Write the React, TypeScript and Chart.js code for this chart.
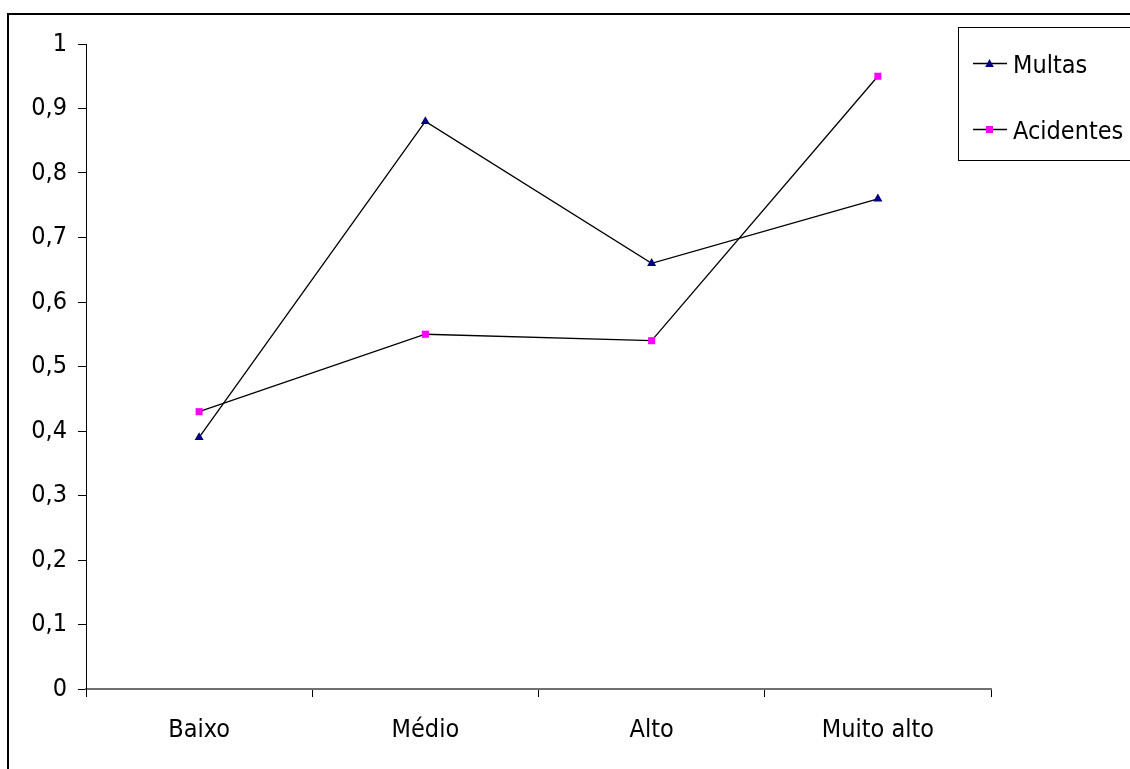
import { useEffect, useRef } from "react";
import { Chart, registerables } from "chart.js";

Chart.register(...registerables);

const categories = ["Baixo", "Médio", "Alto", "Muito alto"];
const multas = [0.39, 0.88, 0.66, 0.76];
const acidentes = [0.43, 0.55, 0.54, 0.95];
const seriesNames = ["Multas", "Acidentes"];
const seriesMarkerColors = ["#000080", "#ff00ff"];
const seriesMarkers = ["triangle", "rect"];

const FONT = "'DejaVu Sans Condensed', 'DejaVu Sans', Verdana, sans-serif";
const FONT_SIZE = 25;

const formatTick = (v: number) => String(Math.round(v * 10) / 10).replace(".", ",");

function drawMarker(ctx: CanvasRenderingContext2D, style: string, x: number, y: number, color: string) {
  ctx.save();
  ctx.fillStyle = color;
  ctx.beginPath();
  if (style === "triangle") {
    ctx.moveTo(x, y - 4.5);
    ctx.lineTo(x + 4.3, y + 3.5);
    ctx.lineTo(x - 4.3, y + 3.5);
    ctx.closePath();
  } else {
    ctx.rect(x - 3.5, y - 3.5, 7, 7);
  }
  ctx.fill();
  ctx.restore();
}

// white page, outer frame and the boxed legend at the top right
const framePlugin = {
  id: "frame",
  beforeDraw(chart: Chart) {
    const ctx = chart.ctx;
    ctx.save();
    ctx.fillStyle = "#ffffff";
    ctx.fillRect(0, 0, chart.width, chart.height);
    ctx.strokeStyle = "#000000";
    ctx.lineWidth = 2;
    ctx.strokeRect(8, 14, chart.width + 20, chart.height + 20);
    ctx.restore();
  },
  afterDraw(chart: Chart) {
    const ctx = chart.ctx;
    ctx.save();
    ctx.strokeStyle = "#000000";
    ctx.lineWidth = 1;
    ctx.strokeRect(958.5, 27.5, 200, 133);
    ctx.font = `${FONT_SIZE}px ${FONT}`;
    ctx.textBaseline = "alphabetic";
    ctx.textAlign = "left";
    chart.data.datasets.forEach((ds, i) => {
      const y = 63 + i * 66;
      ctx.strokeStyle = "#000000";
      ctx.lineWidth = 1.3;
      ctx.beginPath();
      ctx.moveTo(973, y + 0.5);
      ctx.lineTo(1007, y + 0.5);
      ctx.stroke();
      drawMarker(ctx, seriesMarkers[i], 989.5, y + 0.5, seriesMarkerColors[i]);
      ctx.fillStyle = "#000000";
      ctx.fillText(String(ds.label), 1013, y + 10);
    });
    ctx.restore();
  },
};

export default function App() {
  const canvasRef = useRef<HTMLCanvasElement | null>(null);

  useEffect(() => {
    const canvas = canvasRef.current;
    if (!canvas) return;
    const chart = new Chart(canvas, {
      type: "line",
      data: {
        labels: categories,
        datasets: [
          {
            label: seriesNames[0],
            data: multas,
            borderColor: "#000000",
            borderWidth: 1.3,
            pointStyle: "triangle",
            pointRadius: 5.2,
            pointBackgroundColor: seriesMarkerColors[0],
            pointBorderColor: seriesMarkerColors[0],
            pointBorderWidth: 0,
            tension: 0,
          },
          {
            label: seriesNames[1],
            data: acidentes,
            borderColor: "#000000",
            borderWidth: 1.3,
            pointStyle: "rect",
            pointRadius: 5,
            pointBackgroundColor: seriesMarkerColors[1],
            pointBorderColor: seriesMarkerColors[1],
            pointBorderWidth: 0,
            tension: 0,
          },
        ],
      },
      options: {
        responsive: false,
        animation: false,
        layout: { padding: { left: 0, top: 44, right: 139, bottom: 0 } },
        plugins: {
          legend: { display: false },
          tooltip: { enabled: false },
        },
        scales: {
          x: {
            type: "category",
            offset: true,
            grid: {
              offset: true,
              drawOnChartArea: false,
              drawTicks: true,
              tickLength: 8,
              color: "#000000",
              lineWidth: 1,
            },
            border: { color: "#707070", width: 2 },
            ticks: {
              color: "#000000",
              font: { family: FONT, size: FONT_SIZE },
              padding: 18,
              maxRotation: 0,
            },
            afterFit: (scale: any) => {
              scale.height = 80;
            },
          },
          y: {
            min: 0,
            max: 1,
            grid: {
              drawOnChartArea: false,
              drawTicks: true,
              tickLength: 8,
              color: "#000000",
              lineWidth: 1,
            },
            border: { color: "#000000", width: 1 },
            ticks: {
              stepSize: 0.1,
              color: "#000000",
              font: { family: FONT, size: FONT_SIZE },
              padding: 11,
              callback: (v: any) => formatTick(Number(v)),
            },
            afterFit: (scale: any) => {
              scale.width = 86;
            },
          },
        },
      },
      plugins: [framePlugin],
    });
    return () => chart.destroy();
  }, []);

  return (
    <div style={{ position: "fixed", left: 0, top: 0, width: 1130, height: 769, background: "#fff" }}>
      <canvas ref={canvasRef} width={1130} height={769} style={{ display: "block" }} />
    </div>
  );
}
